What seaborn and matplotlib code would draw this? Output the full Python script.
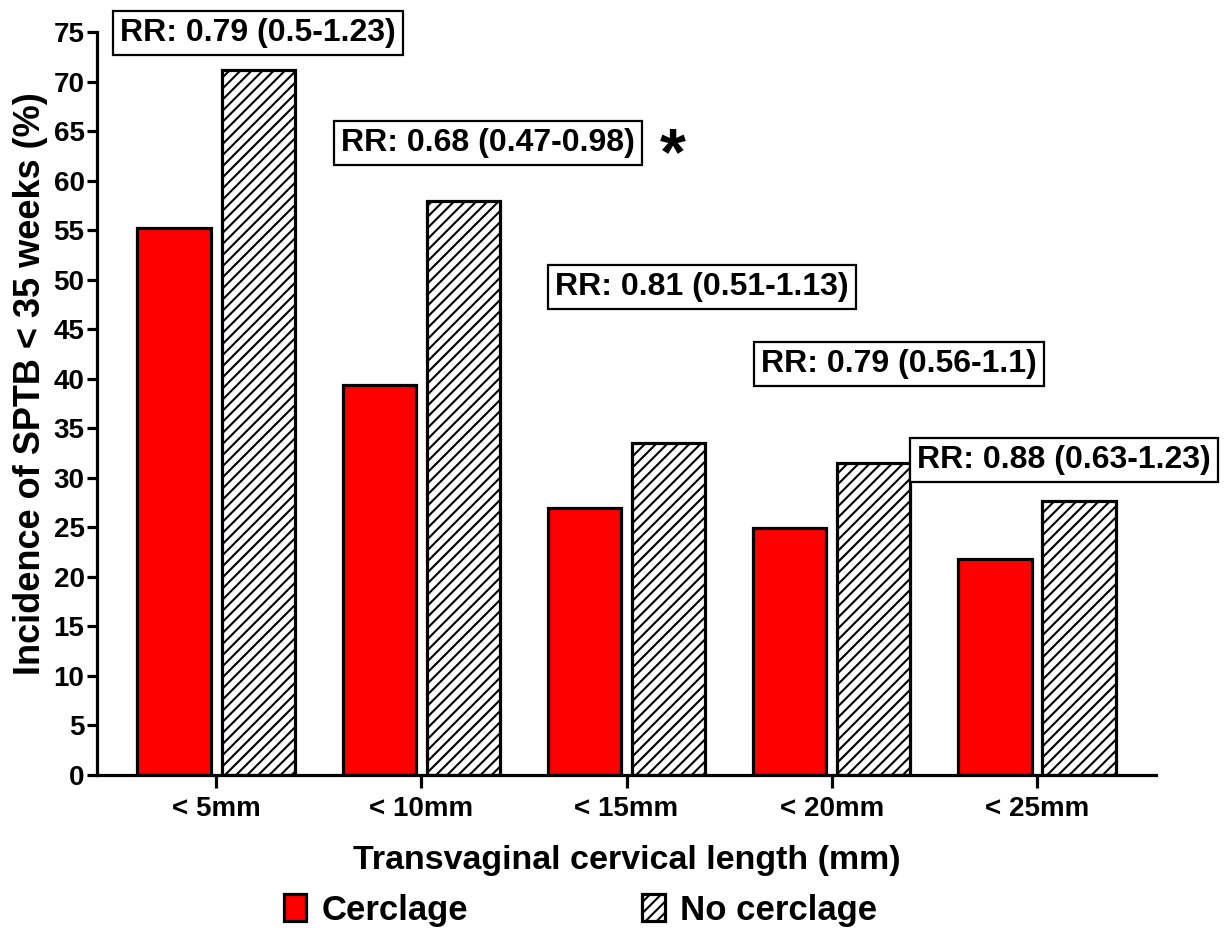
import matplotlib
matplotlib.use("Agg")
import matplotlib.pyplot as plt
from matplotlib.patches import Patch
import seaborn as sns
import pandas as pd

categories = ['< 5mm', '< 10mm', '< 15mm', '< 20mm', '< 25mm']
cerclage = [55.2, 39.4, 26.9, 24.9, 21.8]
no_cerclage = [71.2, 57.9, 33.5, 31.5, 27.7]
groups = ['Cerclage', 'No cerclage']
rr_labels = ['RR: 0.79 (0.5-1.23)', 'RR: 0.68 (0.47-0.98)', 'RR: 0.81 (0.51-1.13)',
             'RR: 0.79 (0.56-1.1)', 'RR: 0.88 (0.63-1.23)']
rr_pos = [(0.205, 74.9), (1.325, 63.8), (2.368, 49.3), (3.328, 41.5), (4.131, 31.8)]
star_pos = (2.225, 62.4)

sns.set_style('ticks')
plt.rcParams['font.family'] = ['Liberation Sans', 'DejaVu Sans']
plt.rcParams['font.weight'] = 'bold'
plt.rcParams['hatch.linewidth'] = 1.5
plt.rcParams['hatch.color'] = 'black'
for k in ['text.color', 'axes.labelcolor', 'xtick.color', 'ytick.color', 'axes.edgecolor']:
    plt.rcParams[k] = 'black'

df = pd.DataFrame({
    'cat': categories * 2,
    'val': cerclage + no_cerclage,
    'grp': [groups[0]] * len(categories) + [groups[1]] * len(categories),
})

fig = plt.figure(figsize=(12.25, 9.32), dpi=100)
ax = fig.add_axes([0.0792, 0.1685, 0.8645, 0.7972])
palette = {'Cerclage': '#ff0000', 'No cerclage': 'white'}
sns.barplot(data=df, x='cat', y='val', hue='grp', palette=palette, ax=ax,
            width=0.82, gap=0.13, edgecolor='black', linewidth=2.3,
            saturation=1, legend=False)
for p in ax.containers[1]:
    p.set_hatch('///')

ax.set_xlim(-0.58, 4.58)
ax.set_ylim(0, 75)
ax.set_yticks(range(0, 76, 5))
for s in ['top', 'right']:
    ax.spines[s].set_visible(False)
for s in ['left', 'bottom']:
    ax.spines[s].set_linewidth(2.3)
    ax.spines[s].set_color('black')
ax.tick_params(axis='y', length=7, width=2.3, labelsize=20, pad=2, colors='black')
ax.tick_params(axis='x', length=9, width=2.3, labelsize=20, pad=6, colors='black')
for t in ax.get_xticklabels() + ax.get_yticklabels():
    t.set_fontweight('bold')
ax.set_xlabel('Transvaginal cervical length (mm)', fontsize=24.5, fontweight='bold', labelpad=17)
ax.set_ylabel('Incidence of SPTB < 35 weeks (%)', fontsize=26, fontweight='bold')
ax.yaxis.set_label_coords(-0.046, 0.527)

for lab, (x, y) in zip(rr_labels, rr_pos):
    ax.text(x, y, lab, ha='center', va='center', fontsize=23, fontweight='bold',
            bbox=dict(boxstyle='square,pad=0.22', facecolor='white', edgecolor='black', linewidth=1.6),
            clip_on=False, zorder=5)
ax.text(star_pos[0], star_pos[1], '*', ha='center', va='center', fontsize=48, fontweight='bold')

handles = [Patch(facecolor='#ff0000', edgecolor='black', linewidth=2.3),
           Patch(facecolor='white', edgecolor='black', linewidth=2.3, hatch='///')]
fig.legend(handles, groups, loc='center', bbox_to_anchor=(0.474, 0.0236), ncol=2,
           frameon=False, prop={'weight': 'bold', 'size': 25}, handlelength=0.65,
           handleheight=0.85, handletextpad=0.45, columnspacing=5.0)

fig.savefig('out.png', dpi=100, facecolor='white')
